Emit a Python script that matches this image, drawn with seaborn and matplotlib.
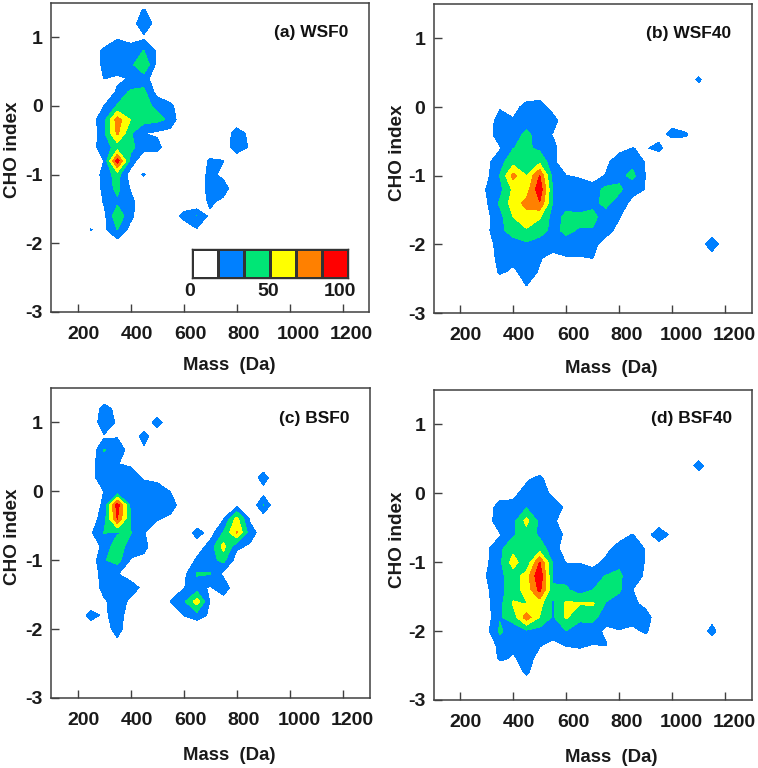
import numpy as np
import seaborn as sns
import matplotlib
matplotlib.use('Agg')
import matplotlib.pyplot as plt
from matplotlib.colors import ListedColormap
from matplotlib.transforms import ScaledTranslation

sns.set_theme(style='ticks')
plt.rcParams['font.family'] = ['Liberation Sans', 'DejaVu Sans']

mass = list(range(200, 1250, 50))
cho = [1.4, 1.2, 1.0, 0.8, 0.6, 0.4, 0.2, 0.0, -0.2, -0.4, -0.6, -0.8, -1.0, -1.2, -1.4, -1.6, -1.8, -2.0, -2.2, -2.4, -2.6, -2.8]

#      200 250 300 350 400 450 500 550 600 650 700 750 800 850 900 950 1000 1050 1100 1150 1200
wsf0 = [
    [0, 0, 0, 0, 0, 19, 0, 0, 0, 0, 0, 0, 0, 0, 0, 0, 0, 0, 0, 0, 0],
    [0, 0, 0, 0, 5, 30, 8, 0, 0, 0, 0, 0, 0, 0, 0, 0, 0, 0, 0, 0, 0],
    [0, 0, 0, 15, 10, 13, 0, 0, 0, 0, 0, 0, 0, 0, 0, 0, 0, 0, 0, 0, 0],
    [0, 0, 22, 26, 25, 34, 14, 0, 0, 0, 0, 0, 0, 0, 0, 0, 0, 0, 0, 0, 0],
    [0, 0, 22, 28, 28, 50, 11, 0, 0, 0, 0, 0, 0, 0, 0, 0, 0, 0, 0, 0, 0],
    [0, 0, 17, 13, 18, 24, 6, 0, 0, 0, 0, 0, 0, 0, 0, 0, 0, 0, 0, 0, 0],
    [0, 0, 0, 20, 37, 38, 10, 0, 0, 0, 0, 0, 0, 0, 0, 0, 0, 0, 0, 0, 0],
    [0, 0, 17, 35, 42, 38, 30, 22, 0, 0, 0, 0, 0, 0, 0, 0, 0, 0, 0, 0, 0],
    [0, 8, 28, 75, 50, 40, 38, 30, 0, 0, 0, 0, 0, 0, 0, 0, 0, 0, 0, 0, 0],
    [0, 2, 30, 70, 35, 17, 13, 9, 0, 0, 0, 0, 28, 11, 0, 0, 0, 0, 0, 0, 0],
    [0, 10, 25, 40, 38, 24, 25, 0, 0, 0, 0, 0, 30, 14, 0, 0, 0, 0, 0, 0, 0],
    [0, 0, 17, 92, 28, 0, 0, 0, 0, 0, 20, 17.5, 0, 0, 0, 0, 0, 0, 0, 0, 0],
    [0, 0, 24, 40, 8, 18.5, 0, 0, 0, 0, 24, 10, 0, 0, 0, 0, 0, 0, 0, 0, 0],
    [0, 0, 22, 38, 15, 0, 0, 0, 0, 0, 26, 28, 0, 0, 0, 0, 0, 0, 0, 0, 0],
    [0, 0, 18, 30, 24, 0, 0, 0, 0, 0, 21, 10, 0, 0, 0, 0, 0, 0, 0, 0, 0],
    [0, 0, 12, 45, 22, 0, 0, 0, 24, 33.5, 12, 0, 0, 0, 0, 0, 0, 0, 0, 0, 0],
    [0, 17.5, 12, 34, 10, 0, 0, 0, 0, 15, 0, 0, 0, 0, 0, 0, 0, 0, 0, 0, 0],
    [0, 0, 0, 8, 0, 0, 0, 0, 0, 0, 0, 0, 0, 0, 0, 0, 0, 0, 0, 0, 0],
    [0, 0, 0, 0, 0, 0, 0, 0, 0, 0, 0, 0, 0, 0, 0, 0, 0, 0, 0, 0, 0],
    [0, 0, 0, 0, 0, 0, 0, 0, 0, 0, 0, 0, 0, 0, 0, 0, 0, 0, 0, 0, 0],
    [0, 0, 0, 0, 0, 0, 0, 0, 0, 0, 0, 0, 0, 0, 0, 0, 0, 0, 0, 0, 0],
    [0, 0, 0, 0, 0, 0, 0, 0, 0, 0, 0, 0, 0, 0, 0, 0, 0, 0, 0, 0, 0],
]

wsf40 = [
    [0, 0, 0, 0, 0, 0, 0, 0, 0, 0, 0, 0, 0, 0, 0, 0, 0, 0, 0, 0, 0],
    [0, 0, 0, 0, 0, 0, 0, 0, 0, 0, 0, 0, 0, 0, 0, 0, 0, 0, 0, 0, 0],
    [0, 0, 0, 0, 0, 0, 0, 0, 0, 0, 0, 0, 0, 0, 0, 0, 0, 0, 0, 0, 0],
    [0, 0, 0, 0, 0, 0, 0, 0, 0, 0, 0, 0, 0, 0, 0, 0, 0, 0, 0, 0, 0],
    [0, 0, 0, 0, 0, 0, 0, 0, 0, 0, 0, 0, 0, 0, 0, 0, 0, 0, 0, 0, 0],
    [0, 0, 0, 0, 0, 0, 0, 0, 0, 0, 0, 0, 0, 0, 0, 0, 0, 0, 21, 0, 0],
    [0, 0, 0, 0, 0, 3, 4, 0, 0, 0, 0, 0, 0, 0, 0, 0, 0, 0, 0, 0, 0],
    [0, 0, 0, 14, 8, 25, 28, 7, 0, 0, 0, 0, 0, 0, 0, 0, 0, 0, 0, 0, 0],
    [0, 0, 3, 27, 19, 28, 28, 26, 0, 0, 0, 0, 0, 0, 0, 0, 10, 0, 0, 0, 0],
    [0, 0, 8, 26, 28, 36, 28, 15, 0, 0, 0, 0, 0, 0, 0, 10, 22, 20, 0, 0, 0],
    [0, 0, 0, 15, 33, 36, 30, 24, 0, 0, 0, 0, 10, 17, 15, 22, 0, 0, 0, 0, 0],
    [0, 0, 12, 28, 43, 40, 46, 22, 0, 0, 3, 12, 28, 28, 15, 0, 0, 0, 0, 0, 0],
    [0, 0, 12, 34, 72, 50, 84, 26, 17, 15, 8, 18, 28, 38, 16, 0, 0, 0, 0, 0, 0],
    [0, 0, 18, 28, 53, 58, 95, 32, 26, 24, 25, 38, 37, 22, 16, 0, 0, 0, 0, 0, 0],
    [0, 0, 15, 36, 58, 72, 82, 32, 28, 24, 29, 38, 25, 12, 0, 0, 0, 0, 0, 0, 0],
    [0, 0, 12, 28, 50, 60, 52, 26, 37, 37, 38, 25, 18, 0, 0, 0, 0, 0, 0, 0, 0],
    [0, 0, 13, 28, 42, 48, 38, 30, 36, 32, 32, 24, 10, 0, 0, 0, 0, 0, 0, 0, 0],
    [0, 0, 4, 28, 24, 30, 28, 24, 28, 26, 22, 8, 0, 0, 0, 0, 0, 0, 0, 33, 0],
    [0, 0, 0, 26, 22, 26, 18, 11, 15, 15, 17, 0, 0, 0, 0, 0, 0, 0, 0, 0, 0],
    [0, 0, 0, 20, 13, 24, 15, 0, 0, 0, 0, 0, 0, 0, 0, 0, 0, 0, 0, 0, 0],
    [0, 0, 0, 0, 0, 17, 0, 0, 0, 0, 0, 0, 0, 0, 0, 0, 0, 0, 0, 0, 0],
    [0, 0, 0, 0, 0, 0, 0, 0, 0, 0, 0, 0, 0, 0, 0, 0, 0, 0, 0, 0, 0],
]

bsf0 = [
    [0, 0, 0, 0, 0, 0, 0, 0, 0, 0, 0, 0, 0, 0, 0, 0, 0, 0, 0, 0, 0],
    [0, 0, 25, 10, 0, 0, 0, 0, 0, 0, 0, 0, 0, 0, 0, 0, 0, 0, 0, 0, 0],
    [0, 0, 32, 13, 0, 0, 27, 0, 0, 0, 0, 0, 0, 0, 0, 0, 0, 0, 0, 0, 0],
    [0, 0, 14, 15, 0, 26, 0, 0, 0, 0, 0, 0, 0, 0, 0, 0, 0, 0, 0, 0, 0],
    [0, 4, 34, 28, 8, 12, 0, 0, 0, 0, 0, 0, 0, 0, 0, 0, 0, 0, 0, 0, 0],
    [0, 10, 28, 17, 14, 0, 0, 0, 0, 0, 0, 0, 0, 0, 0, 0, 0, 0, 0, 0, 0],
    [0, 10, 28, 26, 25, 14, 10, 0, 0, 0, 0, 0, 0, 0, 27, 0, 0, 0, 0, 0, 0],
    [0, 5, 17, 20, 30, 28, 28, 16, 0, 0, 0, 0, 0, 0, 9, 0, 0, 0, 0, 0, 0],
    [0, 0, 22, 92, 30, 30, 30, 30, 0, 0, 0, 0, 12, 0, 34, 0, 0, 0, 0, 0, 0],
    [0, 8, 25, 84, 32, 28, 19, 10, 0, 0, 0, 16, 56, 14, 6, 0, 0, 0, 0, 0, 0],
    [0, 14, 34, 32, 34, 18, 0, 0, 0, 25, 8, 35, 68, 24, 8, 0, 0, 0, 0, 0, 0],
    [0, 0, 24, 42, 26, 24, 0, 0, 0, 6, 24, 56, 20, 14, 0, 0, 0, 0, 0, 0, 0],
    [0, 5, 32, 40, 15, 10, 0, 0, 0, 20, 28, 38, 8, 0, 0, 0, 0, 0, 0, 0, 0],
    [0, 0, 28, 17.5, 8, 0, 0, 0, 12, 35, 34, 12, 0, 0, 0, 0, 0, 0, 0, 0, 0],
    [0, 0, 25, 28, 25, 12, 0, 0, 16, 24, 14, 30, 0, 0, 0, 0, 0, 0, 0, 0, 0],
    [0, 0, 13, 28, 12, 0, 0, 17, 30, 58, 15, 5, 0, 0, 0, 0, 0, 0, 0, 0, 0],
    [0, 26, 12, 27, 5, 0, 0, 0, 17, 26, 13, 0, 0, 0, 0, 0, 0, 0, 0, 0, 0],
    [0, 0, 5, 26, 0, 0, 0, 0, 0, 0, 0, 0, 0, 0, 0, 0, 0, 0, 0, 0, 0],
    [0, 0, 0, 11, 0, 0, 0, 0, 0, 0, 0, 0, 0, 0, 0, 0, 0, 0, 0, 0, 0],
    [0, 0, 0, 0, 0, 0, 0, 0, 0, 0, 0, 0, 0, 0, 0, 0, 0, 0, 0, 0, 0],
    [0, 0, 0, 0, 0, 0, 0, 0, 0, 0, 0, 0, 0, 0, 0, 0, 0, 0, 0, 0, 0],
    [0, 0, 0, 0, 0, 0, 0, 0, 0, 0, 0, 0, 0, 0, 0, 0, 0, 0, 0, 0, 0],
]

bsf40 = [
    [0, 0, 0, 0, 0, 0, 0, 0, 0, 0, 0, 0, 0, 0, 0, 0, 0, 0, 0, 0, 0],
    [0, 0, 0, 0, 0, 0, 0, 0, 0, 0, 0, 0, 0, 0, 0, 0, 0, 0, 0, 0, 0],
    [0, 0, 0, 0, 0, 0, 0, 0, 0, 0, 0, 0, 0, 0, 0, 0, 0, 0, 0, 0, 0],
    [0, 0, 0, 0, 0, 0, 0, 0, 0, 0, 0, 0, 0, 0, 0, 0, 0, 0, 0, 0, 0],
    [0, 0, 0, 0, 0, 0, 0, 0, 0, 0, 0, 0, 0, 0, 0, 0, 0, 0, 0, 0, 0],
    [0, 0, 0, 0, 0, 0, 0, 0, 0, 0, 0, 0, 0, 0, 0, 0, 0, 0, 26, 0, 0],
    [0, 0, 0, 0, 0, 14, 24, 0, 0, 0, 0, 0, 0, 0, 0, 0, 0, 0, 0, 0, 0],
    [0, 0, 0, 6, 12, 24, 30, 10, 0, 0, 0, 0, 0, 0, 0, 0, 0, 0, 0, 0, 0],
    [0, 0, 5, 26, 22, 32, 30, 30, 12, 0, 0, 0, 0, 0, 0, 0, 0, 0, 0, 0, 0],
    [0, 0, 6, 30, 28, 55, 28, 22, 0, 0, 0, 0, 0, 0, 0, 0, 0, 0, 0, 0, 0],
    [0, 0, 0, 15, 31, 42, 31, 28, 12, 0, 0, 0, 6, 17.5, 5, 33, 10, 0, 0, 0, 0],
    [0, 0, 13, 30, 44, 40, 40, 26, 5, 0, 0, 10, 26, 28, 15, 0, 0, 0, 0, 0, 0],
    [0, 0, 14, 30, 58, 36, 84, 30, 16, 16, 9, 22, 30, 30, 15, 0, 0, 0, 0, 0, 0],
    [0, 0, 17, 30, 40, 58, 98, 30, 28, 25, 28, 34, 36, 24, 14, 0, 0, 0, 0, 0, 0],
    [0, 0, 14, 28, 42, 56, 88, 36, 36, 25, 33, 42, 36, 17, 0, 0, 0, 0, 0, 0, 0],
    [0, 0, 12, 28, 52, 49, 56, 30, 53, 51, 52, 32, 25, 22, 10, 0, 0, 0, 0, 0, 0],
    [0, 0, 8, 32, 40, 76, 49, 31, 52, 37, 38, 25, 22, 24, 26, 3, 0, 0, 0, 8, 0],
    [0, 0, 12, 36, 24, 30, 27, 24, 33, 26, 25, 12, 16, 12, 20, 0, 0, 0, 0, 24, 0],
    [0, 0, 0, 24, 21, 28, 18, 12, 18, 22, 16, 18, 0, 0, 0, 0, 0, 0, 0, 0, 0],
    [0, 0, 0, 20, 14, 24, 10, 0, 3, 0, 0, 0, 0, 0, 0, 0, 0, 0, 0, 0, 0],
    [0, 0, 0, 0, 0, 21, 0, 0, 0, 0, 0, 0, 0, 0, 0, 0, 0, 0, 0, 0, 0],
    [0, 0, 0, 0, 0, 0, 0, 0, 0, 0, 0, 0, 0, 0, 0, 0, 0, 0, 0, 0, 0],
]

titles = ['(a) WSF0', '(b) WSF40', '(c) BSF0', '(d) BSF40']
x_ticks = [200, 400, 600, 800, 1000, 1200]
y_ticks = [1, 0, -1, -2, -3]
y_tick_labels = ['1', '0', '-1', '-2', '-3']
legend_labels = ['0', '50', '100']
levels = [0, 100 / 6, 200 / 6, 50, 400 / 6, 500 / 6, 100]
colors = ['#ffffff', '#0080ff', '#00e676', '#ffff00', '#ff8000', '#ff0000']

W, H = 758, 768
fig = plt.figure(figsize=(W / 100, H / 100), dpi=100)

# pixel boxes of the panels: left, right, top, bottom
boxes = [(51, 369, 3, 312), (433.7, 751.7, 4, 313), (51, 369.5, 388, 698), (433.7, 751.7, 390, 700)]
title_pos = [(0.818, 0.903), (0.80, 0.903), (0.827, 0.903), (0.81, 0.907)]
xlabel_pos = [(0.56, -0.172), (0.557, -0.178), (0.56, -0.187), (0.557, -0.187)]
ylabel_pos = [(-0.122, 0.524), (-0.115, 0.52), (-0.122, 0.519), (-0.115, 0.516)]
x_shift = [5.5, 6, 7, 7, 9, 9]  # tick labels sit right of their ticks in the original

for i, grid in enumerate([wsf0, wsf40, bsf0, bsf40]):
    l, r, t, b = boxes[i]
    ax = fig.add_axes([l / W, 1 - b / H, (r - l) / W, (b - t) / H])
    ax.contourf(mass, cho, np.array(grid, dtype=float), levels=levels, colors=colors)
    ax.set_xlim(100, 1300)
    ax.set_ylim(-3, 1.5)
    ax.set_xticks(x_ticks)
    ax.set_xticklabels([str(v) for v in x_ticks])
    ax.set_yticks(y_ticks)
    ax.set_yticklabels(y_tick_labels)
    ax.tick_params(direction='in', length=5.5, width=1, color='#404040', labelcolor='#1a1a1a')
    ax.tick_params(axis='x', pad=10)
    ax.tick_params(axis='y', pad=6)
    for lab, dx in zip(ax.get_xticklabels(), x_shift):
        lab.set_fontsize(14)
        lab.set_fontweight('bold')
        lab.set_transform(lab.get_transform() + ScaledTranslation(dx / 100, 0, fig.dpi_scale_trans))
    for lab in ax.get_yticklabels():
        lab.set_fontsize(14)
        lab.set_fontweight('bold')
    for s in ax.spines.values():
        s.set_color('#404040')
        s.set_linewidth(1.1)
    ax.set_xlabel('Mass  (Da)', fontsize=13.4, fontweight='bold', color='#1a1a1a', va='center')
    ax.xaxis.set_label_coords(*xlabel_pos[i])
    ax.set_ylabel('CHO index', fontsize=13.6, fontweight='bold', color='#1a1a1a', va='center')
    ax.yaxis.set_label_coords(*ylabel_pos[i])
    ax.text(title_pos[i][0], title_pos[i][1], titles[i], transform=ax.transAxes, ha='center', va='center',
            fontsize=12.5, fontweight='bold', color='#111111')

# colour key in panel (a)
key = fig.add_axes([192.3 / W, 1 - 278 / H, 156 / W, 29 / H])
sns.heatmap([list(range(len(colors)))], cmap=ListedColormap(colors), cbar=False, linewidths=1, linecolor='#333333',
            ax=key, vmin=-0.5, vmax=5.5)
key.set_xticks([])
key.set_yticks([])
for lab, x in zip(legend_labels, [-0.09, 2.92, 5.68]):
    key.text(x, 1.48, lab, ha='center', va='center', fontsize=14, fontweight='bold', color='#1a1a1a', clip_on=False)
for s in key.spines.values():
    s.set_visible(True)
    s.set_color('#333333')
    s.set_linewidth(1)

fig.savefig('out.png', dpi=100)
